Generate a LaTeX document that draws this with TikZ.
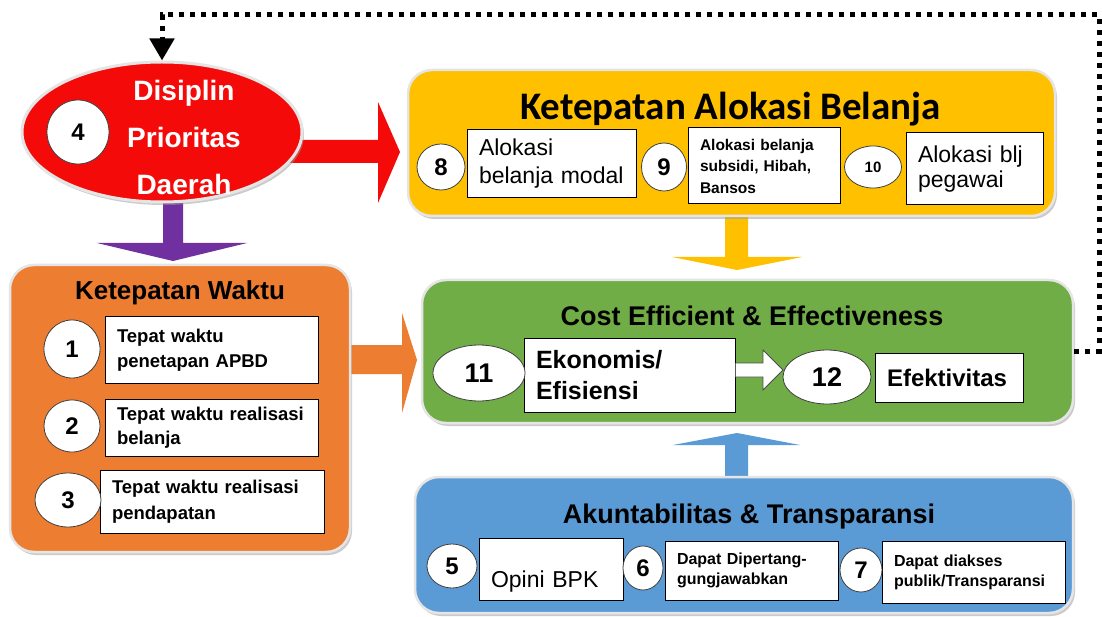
\documentclass[tikz,border=0pt]{standalone}
\usepackage{fontspec}
\setmainfont{Liberation Sans}
\newfontfamily\calib{Carlito}
\usetikzlibrary{shapes.geometric,shadows,arrows.meta}
\definecolor{cRed}{HTML}{F50A0A}
\definecolor{cPurple}{HTML}{7030A0}
\definecolor{cOrange}{HTML}{ED7D31}
\definecolor{cYellow}{HTML}{FFC000}
\definecolor{cGreen}{HTML}{70AD47}
\definecolor{cBlue}{HTML}{5B9BD5}
\newcommand\fsz[2]{\fontsize{#1pt}{#2pt}\selectfont}
\begin{document}
\begin{tikzpicture}[x=1pt,y=-1pt,
 panel/.style={rectangle, rounded corners=24pt, draw=black!10, line width=2.5pt,
   drop shadow={shadow xshift=2pt, shadow yshift=-3pt, fill=black!40, opacity=0.5}},
 wbox/.style={rectangle, draw=black, line width=1pt, fill=white, inner xsep=12pt, inner ysep=2pt, align=left},
 numc/.style={ellipse, draw=black!75, line width=0.8pt, fill=white, inner sep=0pt, font=\bfseries\fsz{24}{26}},
 title/.style={anchor=base, font=\bfseries\fsz{27}{30}, inner sep=0pt},
 fb/.style={line width=5pt, dash pattern=on 5pt off 6pt, -{Triangle[width=24pt,length=22pt]}}
]
\fill[white] (0,0) rectangle (1102,617);
\useasboundingbox (0,0) rectangle (1102,617);

% block arrows (drawn under the panels)
\fill[cRed] (290,140) -- (378,140) -- (378,102) -- (400,152) -- (378,203) -- (378,163) -- (290,163) -- cycle;
\fill[cPurple] (163,195) -- (183,195) -- (183,243) -- (247,243) -- (173,261) -- (97,243) -- (163,243) -- cycle;
\fill[cOrange] (340,345) -- (402,345) -- (402,313) -- (417,360) -- (402,413) -- (402,374) -- (340,374) -- cycle;
\fill[cYellow] (725,210) -- (748,210) -- (748,257) -- (802,257) -- (737,270) -- (672,257) -- (725,257) -- cycle;
\fill[cBlue] (725,485) -- (748,485) -- (748,445) -- (800,445) -- (737,433) -- (673,445) -- (725,445) -- cycle;

% Disiplin Prioritas Daerah
\node[ellipse, fill=cRed, draw=black!10, line width=3pt, minimum width=280pt, minimum height=140pt,
  drop shadow={shadow xshift=2pt, shadow yshift=-3pt, fill=black!40, opacity=0.5}] (ell) at (162,132) {};
\node[font=\bfseries\fsz{28}{47}, text=white, align=center, anchor=north, inner sep=0pt] (elltxt) at (184,80) {Disiplin\\Prioritas\\Daerah};
\node[numc, minimum width=62pt, minimum height=64pt] (n4) at (78,132) {4};

% Ketepatan Waktu
\node[panel, fill=cOrange, minimum width=340pt, minimum height=287pt] (pw) at (180,408.5) {};
\node[title, font=\bfseries\fsz{26}{30}] (tw) at (180,300) {Ketepatan Waktu};
\node[wbox, minimum width=213pt, minimum height=66pt, text width=189pt, font=\bfseries\fsz{18.5}{25}] (b1) at (211.5,350) {Tepat waktu\\penetapan APBD};
\node[wbox, minimum width=213pt, minimum height=57pt, text width=189pt, font=\bfseries\fsz{18.5}{24}] (b2) at (211.5,428) {Tepat waktu realisasi\\belanja};
\node[wbox, minimum width=224pt, minimum height=63pt, text width=200pt, font=\bfseries\fsz{18.5}{26}] (b3) at (212,501.5) {Tepat waktu realisasi\\pendapatan};
\node[numc, minimum width=56pt, minimum height=58pt] (n1) at (72,349) {1};
\node[numc, minimum width=56pt, minimum height=52pt] (n2) at (72,426) {2};
\node[numc, minimum width=66pt, minimum height=54pt] (n3) at (68,500) {3};

% Ketepatan Alokasi Belanja
\node[panel, fill=cYellow, minimum width=647pt, minimum height=146pt] (pa) at (731.5,143) {};
\node[anchor=base, inner sep=0pt, font=\calib\bfseries\fsz{39}{40}] (ta) at (730.5,120) {Ketepatan Alokasi Belanja};
\node[wbox, minimum width=169pt, minimum height=68pt, text width=145pt, font=\fsz{23}{28}] (b8) at (551.5,164) {Alokasi\\belanja modal};
\node[wbox, minimum width=152pt, minimum height=76pt, text width=128pt, font=\bfseries\fsz{15.5}{21.5}] (b9) at (764,166) {Alokasi belanja\\subsidi, Hibah,\\Bansos};
\node[wbox, minimum width=137pt, minimum height=72pt, text width=113pt, font=\fsz{23}{25}] (b10) at (974.5,169) {Alokasi blj\\pegawai};
\node[numc, minimum width=48pt, minimum height=46pt, font=\bfseries\fsz{24}{26}] (n8) at (441,167) {8};
\node[numc, minimum width=45pt, minimum height=48pt, font=\bfseries\fsz{24}{26}] (n9) at (664,167) {9};
\node[numc, minimum width=57pt, minimum height=42pt, font=\bfseries\fsz{15}{16}] (n10) at (873,167) {10};

% Cost Efficient & Effectiveness
\node[panel, fill=cGreen, minimum width=651pt, minimum height=143pt] (pc) at (747.5,351.5) {};
\node[title] (tc) at (752,325) {Cost Efficient \& Effectiveness};
\node[wbox, minimum width=211pt, minimum height=74pt, text width=187pt, font=\bfseries\fsz{25}{31}] (b11) at (629.5,375) {Ekonomis/\\Efisiensi};
\node[wbox, minimum width=148pt, minimum height=49pt, text width=124pt, font=\bfseries\fsz{24}{26}] (b12) at (949,377.5) {Efektivitas};
\draw[fill=white, draw=black!70, line width=0.8pt] (b11.east |- 0,363) -- (763,363) -- (763,350) -- (783,370) -- (763,390) -- (763,377) -- (b11.east |- 0,377);
\node[numc, minimum width=92pt, minimum height=56pt, font=\bfseries\fsz{27}{28}] (n11) at (479,373) {11};
\node[numc, minimum width=88pt, minimum height=54pt, font=\bfseries\fsz{27}{28}] (n12) at (827,377) {12};

% Akuntabilitas & Transparansi
\node[panel, fill=cBlue, minimum width=658pt, minimum height=136pt] (pt) at (744,545) {};
\node[title] (tt) at (749,523) {Akuntabilitas \& Transparansi};
\node[wbox, minimum width=144pt, minimum height=62pt, text width=120pt, text height=36pt, text depth=0pt, font=\fsz{23}{25}] (b5) at (551,569) {Opini BPK};
\node[wbox, minimum width=173pt, minimum height=59pt, text width=149pt, font=\bfseries\fsz{16}{20}] (b6) at (751.5,570.5) {Dapat Dipertang-\\gungjawabkan};
\node[wbox, minimum width=183pt, minimum height=62pt, text width=159pt, font=\bfseries\fsz{16}{20}] (b7) at (973.5,572) {Dapat diakses\\publik/Transparansi};
\node[numc, minimum width=50pt, minimum height=44pt] (n5) at (452,566) {5};
\node[numc, minimum width=40pt, minimum height=44pt] (n6) at (643,568) {6};
\node[numc, minimum width=42pt, minimum height=44pt] (n7) at (861,570) {7};

% feedback loop
\draw[fb] (pc.east) -| (1099,15) -| (ell.north);
\end{tikzpicture}
\end{document}
